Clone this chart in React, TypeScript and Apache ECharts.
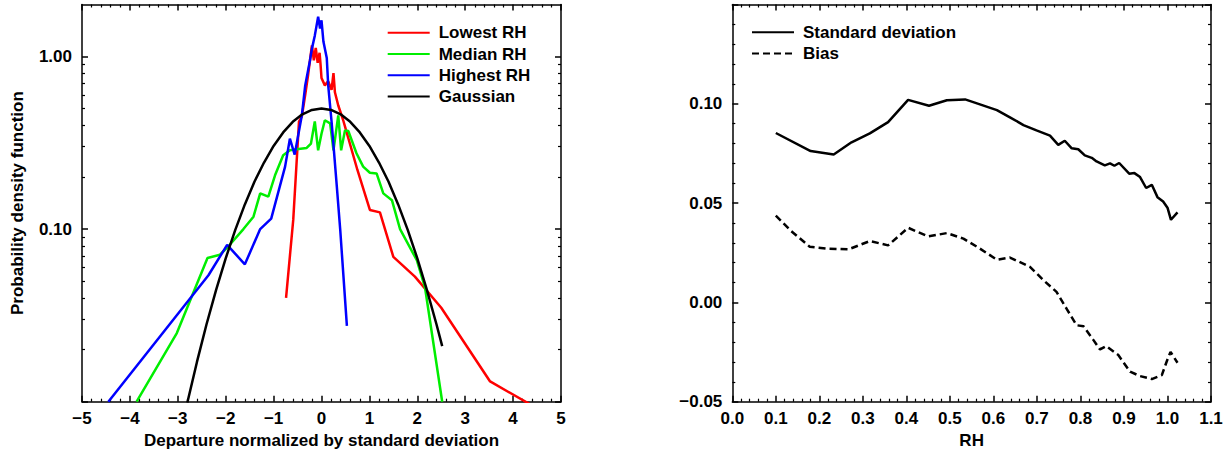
import React, { useEffect, useRef } from 'react';
import * as echarts from 'echarts';

// ---------- Left panel: PDF of departures (x, pdf) ----------
const lowestRH: [number, number][] = [
  [-0.74, 0.040], [-0.59, 0.113], [-0.47, 0.42], [-0.41, 0.45], [-0.34, 0.60], [-0.28, 0.78],
  [-0.20, 1.16], [-0.16, 0.95], [-0.12, 1.12], [-0.08, 0.92], [-0.04, 1.05], [-0.02, 0.90],
  [0.0, 0.75], [0.07, 0.68], [0.14, 0.72], [0.21, 0.64], [0.25, 0.80], [0.28, 0.62],
  [0.35, 0.52], [0.45, 0.43], [0.53, 0.36], [0.75, 0.22], [1.01, 0.129], [1.22, 0.125],
  [1.50, 0.069], [1.95, 0.053], [2.50, 0.035], [3.52, 0.0131], [4.40, 0.0095],
];
const medianRH: [number, number][] = [
  [-3.86, 0.010], [-3.02, 0.025], [-2.38, 0.068], [-2.12, 0.071], [-1.97, 0.078], [-1.63, 0.10],
  [-1.42, 0.118], [-1.28, 0.161], [-1.11, 0.154], [-0.97, 0.205], [-0.80, 0.268], [-0.66, 0.286],
  [-0.52, 0.29], [-0.31, 0.295], [-0.22, 0.313], [-0.14, 0.42], [-0.07, 0.286], [0.0, 0.357],
  [0.07, 0.427], [0.18, 0.41], [0.25, 0.286], [0.35, 0.456], [0.41, 0.286], [0.49, 0.373],
  [0.56, 0.37], [0.73, 0.275], [0.87, 0.23], [1.01, 0.212], [1.15, 0.21], [1.29, 0.161],
  [1.47, 0.147], [1.64, 0.10], [1.99, 0.066], [2.16, 0.046], [2.52, 0.010],
];
const highestRH: [number, number][] = [
  [-4.45, 0.010], [-2.36, 0.054], [-1.97, 0.081], [-1.60, 0.0625], [-1.28, 0.10], [-1.05, 0.115],
  [-0.76, 0.23], [-0.66, 0.334], [-0.56, 0.27], [-0.41, 0.456], [-0.34, 0.68], [-0.24, 0.95],
  [-0.20, 1.11], [-0.14, 1.32], [-0.07, 1.70], [-0.03, 1.45], [0.0, 1.62], [0.04, 1.22],
  [0.11, 0.98], [0.14, 0.68], [0.21, 0.42], [0.32, 0.176], [0.39, 0.10], [0.53, 0.0275],
];
const gaussian: [number, number][] = [
  [-2.8, 0.0099], [-2.6, 0.0170], [-2.4, 0.0281], [-2.2, 0.0444], [-2.0, 0.0677], [-1.8, 0.0989],
  [-1.6, 0.139], [-1.4, 0.188], [-1.2, 0.243], [-1.0, 0.303], [-0.8, 0.363], [-0.6, 0.418],
  [-0.4, 0.462], [-0.2, 0.490], [0.0, 0.500], [0.2, 0.490], [0.4, 0.462], [0.6, 0.418],
  [0.8, 0.363], [1.0, 0.303], [1.2, 0.243], [1.4, 0.188], [1.6, 0.139], [1.8, 0.0989],
  [2.0, 0.0677], [2.2, 0.0444], [2.4, 0.0281], [2.52, 0.0210],
];
const pdfMin = 0.01;
const pdfMax = 2;
const pdfMajorTicks = [0.01, 0.1, 1];
const pdfMinorTicks = [0.02, 0.03, 0.04, 0.05, 0.06, 0.07, 0.08, 0.09, 0.2, 0.3, 0.4, 0.5, 0.6, 0.7, 0.8, 0.9];
const pdfLabels = [0.1, 1];

// ---------- Right panel: std / bias vs RH ----------
const stdDev: [number, number][] = [
  [0.10, 0.0853], [0.18, 0.0762], [0.233, 0.0745], [0.274, 0.0806], [0.316, 0.0851], [0.358, 0.0908],
  [0.404, 0.1020], [0.452, 0.0990], [0.493, 0.1018], [0.535, 0.1022], [0.569, 0.0997], [0.608, 0.0968],
  [0.638, 0.0932], [0.669, 0.0893], [0.699, 0.0866], [0.730, 0.0840], [0.749, 0.0793], [0.764, 0.0814],
  [0.780, 0.0776], [0.795, 0.0771], [0.810, 0.0740], [0.826, 0.0728], [0.837, 0.0710], [0.856, 0.0690],
  [0.868, 0.0700], [0.878, 0.0688], [0.889, 0.0702], [0.912, 0.0648], [0.924, 0.0651], [0.937, 0.0631],
  [0.951, 0.0576], [0.964, 0.0592], [0.977, 0.0530], [0.990, 0.0508], [1.000, 0.0477], [1.008, 0.0416],
  [1.023, 0.0453],
];
const bias: [number, number][] = [
  [0.10, 0.0437], [0.135, 0.0360], [0.178, 0.0280], [0.217, 0.0271], [0.267, 0.0267], [0.316, 0.0309],
  [0.358, 0.0287], [0.404, 0.0376], [0.450, 0.0332], [0.493, 0.0349], [0.531, 0.0321], [0.569, 0.0271],
  [0.608, 0.0215], [0.638, 0.0226], [0.684, 0.0179], [0.715, 0.0112], [0.745, 0.0053], [0.768, -0.0031],
  [0.791, -0.0115], [0.807, -0.0120], [0.830, -0.0190], [0.845, -0.0237], [0.859, -0.0220], [0.887, -0.0265],
  [0.914, -0.0349], [0.937, -0.0371], [0.964, -0.0386], [0.987, -0.0366], [0.9995, -0.0290], [1.007, -0.0249],
  [1.023, -0.0304],
];

const FONT = '"Liberation Sans", Arial, Helvetica, sans-serif';
const txt = { color: '#000', fontFamily: FONT, fontWeight: 'bold' as const, fontSize: 17 };
const minus = (s: string) => s.replace('-', '\u2212');
const lg = (v: number) => Math.log10(v);
const toLog = (d: [number, number][]) => d.map(([x, y]) => [x, lg(y)]);

const lineAx = { show: true, onZero: false, lineStyle: { color: '#000', width: 1.5 } };
const noLine = { show: false, onZero: false };
const majTick = { show: true, inside: true, length: 6, lineStyle: { color: '#000', width: 1.5 } };
const minTick = { show: true, inside: true, length: 3, lineStyle: { color: '#000', width: 1.2 } };
const hiddenIcon = { color: 'transparent', borderColor: 'transparent', borderWidth: 0, opacity: 0 };

export default function App() {
  const ref = useRef<HTMLDivElement>(null);
  useEffect(() => {
    document.body.style.margin = '0';
    if (!ref.current) return;
    const chart = echarts.init(ref.current, undefined, { renderer: 'svg' });
    const gridL = { left: 82, right: 671, top: 4.5, bottom: 53.3, containLabel: false };
    const gridR = { left: 732.3, right: 21, top: 4.5, bottom: 53.3, containLabel: false };
    const yMin = lg(pdfMin);
    const yMax = lg(pdfMax);
    chart.setOption({
      animation: false,
      backgroundColor: '#fff',
      grid: [gridL, { ...gridL }, gridR],
      legend: [
        {
          data: ['Lowest RH', 'Median RH', 'Highest RH', 'Gaussian'],
          orient: 'vertical', left: 386.7, top: 24.3, padding: 0,
          itemWidth: 42, itemHeight: 14, itemGap: 4.2, selectedMode: false,
          itemStyle: hiddenIcon,
          textStyle: { ...txt, lineHeight: 16, padding: [0, 0, 0, 4] },
        },
        {
          data: ['Standard deviation', 'Bias'],
          orient: 'vertical', left: 751, top: 23.7, padding: 0,
          itemWidth: 42, itemHeight: 14, itemGap: 4.2, selectedMode: false,
          itemStyle: hiddenIcon,
          textStyle: { ...txt, lineHeight: 16, padding: [0, 0, 0, 4] },
        },
      ],
      xAxis: [
        {
          type: 'value', gridIndex: 0, position: 'bottom', min: -5, max: 5, interval: 1,
          axisLine: lineAx, axisTick: majTick,
          minorTick: { ...minTick, splitNumber: 5 },
          axisLabel: { ...txt, margin: 8, showMinLabel: true, showMaxLabel: true, formatter: (v: number) => minus(String(v)) },
          splitLine: { show: false }, minorSplitLine: { show: false },
          name: 'Departure normalized by standard deviation', nameLocation: 'middle', nameGap: 28, nameTextStyle: txt,
        },
        {
          type: 'value', gridIndex: 0, position: 'top', min: -5, max: 5, interval: 1,
          axisLine: lineAx, axisTick: majTick,
          minorTick: { ...minTick, splitNumber: 5 },
          axisLabel: { show: false }, splitLine: { show: false },
        },
        { type: 'value', gridIndex: 1, show: false, min: -5, max: 5, axisLine: noLine },
        {
          type: 'value', gridIndex: 2, position: 'bottom', min: 0, max: 1.1, interval: 0.1,
          axisLine: lineAx, axisTick: majTick,
          minorTick: { ...minTick, splitNumber: 5 },
          axisLabel: { ...txt, margin: 8, showMinLabel: true, showMaxLabel: true, formatter: (v: number) => v.toFixed(1) },
          splitLine: { show: false },
          name: 'RH', nameLocation: 'middle', nameGap: 28, nameTextStyle: txt,
        },
        {
          type: 'value', gridIndex: 2, position: 'top', min: 0, max: 1.1, interval: 0.1,
          axisLine: lineAx, axisTick: majTick,
          minorTick: { ...minTick, splitNumber: 5 },
          axisLabel: { show: false }, splitLine: { show: false },
        },
      ],
      yAxis: [
        {
          type: 'value', gridIndex: 0, position: 'left', min: yMin, max: yMax,
          axisLine: lineAx,
          axisTick: { ...majTick, customValues: pdfMajorTicks.map(lg) },
          axisLabel: { ...txt, margin: 10, customValues: pdfLabels.map(lg), formatter: (v: number) => Math.pow(10, v).toFixed(2) },
          splitLine: { show: false },
          name: 'Probability density function', nameLocation: 'middle', nameGap: 56, nameTextStyle: txt,
        },
        {
          type: 'value', gridIndex: 0, position: 'right', min: yMin, max: yMax,
          axisLine: lineAx,
          axisTick: { ...majTick, customValues: pdfMajorTicks.map(lg) },
          axisLabel: { show: false }, splitLine: { show: false },
        },
        {
          type: 'value', gridIndex: 1, position: 'left', min: yMin, max: yMax,
          axisLine: noLine,
          axisTick: { ...minTick, customValues: pdfMinorTicks.map(lg) },
          axisLabel: { show: false }, splitLine: { show: false },
        },
        {
          type: 'value', gridIndex: 1, position: 'right', min: yMin, max: yMax,
          axisLine: noLine,
          axisTick: { ...minTick, customValues: pdfMinorTicks.map(lg) },
          axisLabel: { show: false }, splitLine: { show: false },
        },
        {
          type: 'value', gridIndex: 2, position: 'left', min: -0.05, max: 0.15, interval: 0.05,
          axisLine: lineAx, axisTick: majTick,
          minorTick: { ...minTick, splitNumber: 5 },
          axisLabel: {
            ...txt, margin: 10, showMinLabel: true,
            formatter: (v: number) => (v > 0.14 ? '' : minus(v.toFixed(2))),
          },
          splitLine: { show: false },
        },
        {
          type: 'value', gridIndex: 2, position: 'right', min: -0.05, max: 0.15, interval: 0.05,
          axisLine: lineAx, axisTick: majTick,
          minorTick: { ...minTick, splitNumber: 5 },
          axisLabel: { show: false }, splitLine: { show: false },
        },
      ],
      series: [
        { name: 'Lowest RH', type: 'line', xAxisIndex: 0, yAxisIndex: 0, data: toLog(lowestRH), symbol: 'none', lineStyle: { color: '#ff0000', width: 2.5 }, itemStyle: { color: '#ff0000' } },
        { name: 'Median RH', type: 'line', xAxisIndex: 0, yAxisIndex: 0, data: toLog(medianRH), symbol: 'none', lineStyle: { color: '#00ee00', width: 2.5 }, itemStyle: { color: '#00ee00' } },
        { name: 'Highest RH', type: 'line', xAxisIndex: 0, yAxisIndex: 0, data: toLog(highestRH), symbol: 'none', lineStyle: { color: '#0000ff', width: 2.5 }, itemStyle: { color: '#0000ff' } },
        { name: 'Gaussian', type: 'line', xAxisIndex: 0, yAxisIndex: 0, data: toLog(gaussian), symbol: 'none', lineStyle: { color: '#000', width: 2.5 }, itemStyle: { color: '#000' } },
        { name: 'Standard deviation', type: 'line', xAxisIndex: 3, yAxisIndex: 4, data: stdDev, symbol: 'none', lineStyle: { color: '#000', width: 2.5 }, itemStyle: { color: '#000' } },
        { name: 'Bias', type: 'line', xAxisIndex: 3, yAxisIndex: 4, data: bias, symbol: 'none', lineStyle: { color: '#000', width: 2.5, type: [7, 4] }, itemStyle: { color: '#000' } },
      ],
    });
    return () => chart.dispose();
  }, []);
  return <div ref={ref} style={{ width: 1232, height: 455 }} />;
}
